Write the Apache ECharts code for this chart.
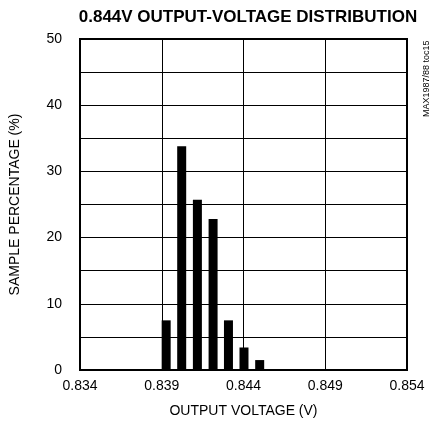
<!DOCTYPE html>
<html><head><meta charset="utf-8">
<script src="https://cdn.jsdelivr.net/npm/echarts@6/dist/echarts.min.js"></script>
<style>html,body{margin:0;padding:0;background:#fff}#c{width:430px;height:434px}</style>
</head><body><div id="c"></div>
<script>
const voltages = [0.83927, 0.84022, 0.84118, 0.84214, 0.84308, 0.84403, 0.84499];
const percentages = [7.5, 33.8, 25.7, 22.8, 7.5, 3.4, 1.5];
const xTicks = [0.834, 0.839, 0.844, 0.849, 0.854];
const yTicks = [0, 10, 20, 30, 40, 50];
const F = '"Liberation Sans Narrow","Arial Narrow","Liberation Sans",sans-serif';
const chart = echarts.init(document.getElementById('c'));
chart.setOption({
  animation: false,
  title: {text: '0.844V OUTPUT-VOLTAGE DISTRIBUTION', left: 243, top: 4, textAlign: 'center',
    textStyle: {fontFamily: F, fontWeight: 'bold', fontSize: 17, color: '#000'}},
  grid: {left: 79, right: 23, top: 39, bottom: 64, show: true, borderColor: '#000', borderWidth: 2, backgroundColor: 'transparent'},
  xAxis: {type: 'value', min: xTicks[0], max: xTicks[xTicks.length-1], interval: 0.005,
    name: 'OUTPUT VOLTAGE (V)', nameLocation: 'middle', nameGap: 34,
    nameTextStyle: {fontFamily: F, fontSize: 14, color: '#000'},
    axisLine: {show: false}, axisTick: {show: false},
    axisLabel: {fontFamily: F, fontSize: 14, color: '#000', margin: 9, formatter: v => v.toFixed(3)},
    splitLine: {show: true, lineStyle: {color: '#000', width: 1}}},
  yAxis: {type: 'value', min: yTicks[0], max: yTicks[yTicks.length-1], interval: 10,
    name: 'SAMPLE PERCENTAGE (%)', nameLocation: 'middle', nameGap: 58,
    nameTextStyle: {fontFamily: F, fontSize: 14, color: '#000'},
    axisLine: {show: false}, axisTick: {show: false},
    axisLabel: {fontFamily: F, fontSize: 14, color: '#000', margin: 18},
    splitLine: {show: true, lineStyle: {color: '#000', width: 1}},
    minorTick: {show: false, splitNumber: 2},
    minorSplitLine: {show: true, lineStyle: {color: '#000', width: 1}}},
  series: [{type: 'bar', barWidth: 9, itemStyle: {color: '#000'},
    data: voltages.map((v, i) => [v, percentages[i]])}],
  graphic: [{type: 'text', x: 422, y: 117, rotation: Math.PI/2,
    style: {text: 'MAX1987/88 toc15', fontFamily: F, fontSize: 9, fill: '#000'}}]
});
</script></body></html>
